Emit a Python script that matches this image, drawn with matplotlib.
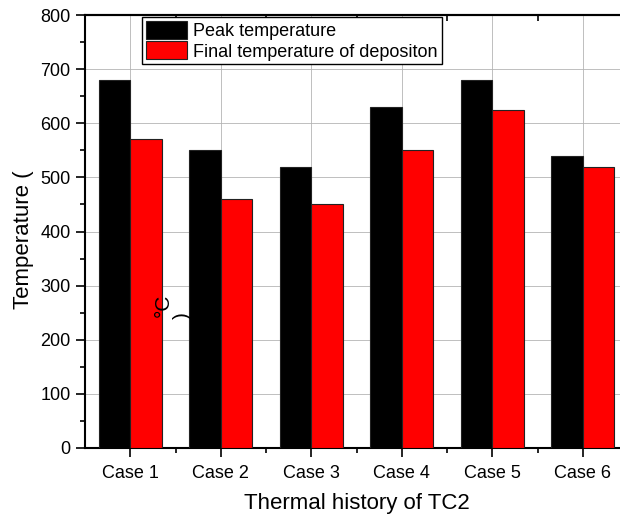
import matplotlib.pyplot as plt
import numpy as np

plt.rcParams['font.family'] = ['Liberation Sans', 'DejaVu Sans']

cases = ['Case 1', 'Case 2', 'Case 3', 'Case 4', 'Case 5', 'Case 6']
peak_temp = [680, 550, 520, 630, 680, 540]
final_temp = [570, 460, 450, 550, 625, 520]

W, H = 620, 517
fig = plt.figure(figsize=(W / 100, H / 100), dpi=100)
# axes run past the right edge of the figure, like the original export
ax = fig.add_axes([85 / W, 69 / H, 543 / W, 433 / H])

x = np.arange(1, len(cases) + 1)
bw = 0.35
ax.bar(x - bw / 2, peak_temp, bw, color='black', edgecolor='#222222',
       linewidth=0.8, label='Peak temperature', zorder=3)
ax.bar(x + bw / 2, final_temp, bw, color='#ff0000', edgecolor='#222222',
       linewidth=0.8, label='Final temperature of depositon', zorder=3)

ax.set_xlim(0.5, 6.5)
ax.set_ylim(0, 800)
ax.set_yticks(np.arange(0, 801, 100))
ax.set_yticks(np.arange(50, 800, 100), minor=True)
ax.set_xticks(x)
ax.set_xticklabels(cases)
ax.set_xticks(x[:-1] + 0.5, minor=True)

ax.grid(True, which='major', color='#b4b4b4', linewidth=0.6, zorder=0)
ax.tick_params(which='major', direction='out', length=6.5, width=1.2,
               labelsize=13, pad=4)
ax.tick_params(which='minor', direction='out', length=3.5, width=1.2)
ax.tick_params(axis='x', which='major', pad=6)
ax.tick_params(right=False)

# small inward ticks along the top edge
top = ax.secondary_xaxis('top')
top.set_xticks([])
top.set_xticks(x[:-1] + 0.5, minor=True)
top.tick_params(which='minor', direction='in', length=4, width=1.2)
top.spines['top'].set_linewidth(1.5)

for side in ['left', 'bottom', 'top']:
    ax.spines[side].set_linewidth(1.5)
ax.spines['right'].set_visible(False)

ax.set_xlabel('Thermal history of TC2', fontsize=16, labelpad=8)

# y label, with the degree sign and bracket rendered apart
fig.text(24 / W, 1 - 240 / H, 'Temperature (', rotation=90, fontsize=16,
         ha='center', va='center')
fig.text(163 / W, 1 - 305 / H, '°C', rotation=90, fontsize=15,
         ha='center', va='center', zorder=5)
fig.text(182 / W, 1 - 316 / H, ')', rotation=90, fontsize=15,
         ha='center', va='center', zorder=5)

leg = ax.legend(loc='upper left', bbox_to_anchor=(142 / W, 1 - 17 / H),
                bbox_transform=fig.transFigure, borderaxespad=0,
                fontsize=13, handlelength=2.3, handleheight=1.15,
                handletextpad=0.35, labelspacing=0.1, borderpad=0.2,
                fancybox=False, framealpha=1, edgecolor='black')
leg.get_frame().set_linewidth(1.0)
leg.set_zorder(6)

fig.savefig('out.png', dpi=100)
